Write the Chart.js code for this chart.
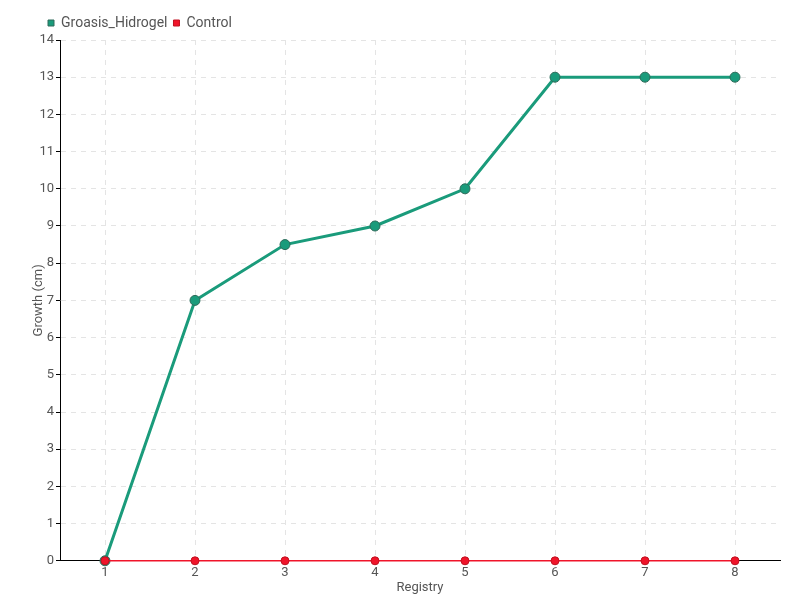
<!DOCTYPE html>
<html>
<head>
<meta charset="utf-8">
<script src="https://cdn.jsdelivr.net/npm/chart.js@4"></script>
<style>
  html, body { margin: 0; padding: 0; background: #fff; }
  #wrap { width: 800px; height: 600px; }
</style>
</head>
<body>
<div id="wrap"><canvas id="growth-chart"></canvas></div>
<script>
const registry = ['1', '2', '3', '4', '5', '6', '7', '8'];
const groasisHidrogel = [0, 7, 8.5, 9, 10, 13, 13, 13];
const control = [0, 0, 0, 0, 0, 0, 0, 0];

Chart.defaults.font.family = '"Roboto", "DejaVu Sans", sans-serif';
Chart.defaults.color = '#555';

const ctx = document.getElementById('growth-chart').getContext('2d');
const chartGrowth = new Chart(ctx, {
    type: 'line',
    data: {
        labels: registry,
        datasets: [{
            label: 'Groasis_Hidrogel',
            data: groasisHidrogel,
            borderColor: '#1a9b7b',
            backgroundColor: '#1a9b7b',
            pointBackgroundColor: '#1a9b7b',
            pointBorderColor: '#2e6b5a',
            pointBorderWidth: 1,
            borderWidth: 3,
            pointRadius: 5,
            tension: 0,
            fill: false,
            clip: 10,
            order: 2
        }, {
            label: 'Control',
            data: control,
            borderColor: '#f0142a',
            backgroundColor: '#f0142a',
            pointBackgroundColor: '#f0142a',
            pointBorderColor: '#c01020',
            pointBorderWidth: 1,
            borderWidth: 1.5,
            pointRadius: 4,
            tension: 0,
            fill: false,
            clip: 10,
            order: 1
        }]
    },
    options: {
        responsive: true,
        maintainAspectRatio: false,
        animation: false,
        layout: { padding: { left: 31, right: 20, top: 10, bottom: 4 } },
        scales: {
            x: {
                offset: true,
                border: { color: '#000', width: 1, dash: [5, 5] },
                grid: {
                    offset: false,
                    color: '#e4e4e4',
                    tickColor: '#555',
                    tickLength: 4,
                    tickBorderDash: []
                },
                ticks: { font: { size: 13 }, padding: 0 },
                title: { display: true, text: 'Registry', font: { size: 13 }, padding: 0 }
            },
            y: {
                min: 0,
                max: 14,
                border: { color: '#000', width: 1, dash: [5, 5] },
                grid: {
                    color: '#e4e4e4',
                    tickColor: '#000',
                    tickLength: 4,
                    tickBorderDash: []
                },
                ticks: { stepSize: 1, font: { size: 13 }, padding: 2 },
                title: { display: true, text: 'Growth (cm)', font: { size: 13 }, padding: 0 },
                afterFit(scale) {
                    scale.width = 29;
                }
            }
        },
        plugins: {
            legend: {
                align: 'start',
                labels: {
                    usePointStyle: true,
                    pointStyle: 'rect',
                    boxWidth: 6,
                    boxHeight: 6,
                    padding: 6,
                    font: { size: 14 },
                    sort: (a, b) => a.datasetIndex - b.datasetIndex
                }
            },
            tooltip: { enabled: false }
        }
    },
    plugins: [{
        id: 'shiftLegend',
        afterLayout(chart) {
            chart.legend.left += 11;
        }
    }]
});
</script>
</body>
</html>
